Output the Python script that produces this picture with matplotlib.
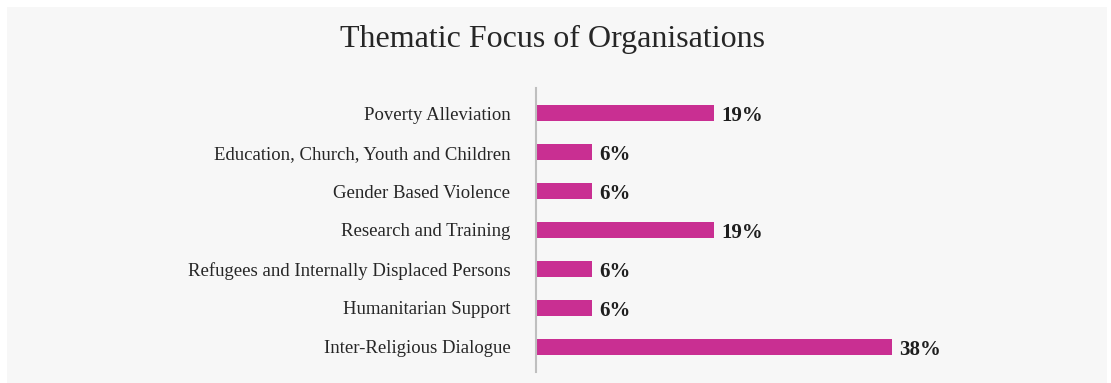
import matplotlib
matplotlib.use("Agg")
import matplotlib.pyplot as plt
from matplotlib.patches import Rectangle

# -----------------------------
# DATA
# -----------------------------
categories = [
    "Poverty Alleviation",
    "Education, Church, Youth and Children",
    "Gender Based Violence",
    "Research and Training",
    "Refugees and Internally Displaced Persons",
    "Humanitarian Support",
    "Inter-Religious Dialogue",
]
shares = [19, 6, 6, 19, 6, 6, 38]
share_labels = ["19%", "6%", "6%", "19%", "6%", "6%", "38%"]
# -----------------------------

BAR_COLOR = "#c92f92"
BG_COLOR = "#f7f7f7"
TEXT_COLOR = "#262626"

plt.rcParams["font.family"] = ["Liberation Serif", "DejaVu Serif"]

W, H = 1111, 383
fig = plt.figure(figsize=(W / 100, H / 100), dpi=100)
fig.patch.set_facecolor("white")

# grey panel behind everything
fig.patches.append(Rectangle((7 / W, 0), 1100 / W, 376 / H,
                             transform=fig.transFigure, facecolor=BG_COLOR,
                             edgecolor="none", zorder=-10))

# axes placed in pixel terms: y axis at x=536, spanning y=88..372
xmax = 50
px_per_unit = 9.37
left, right = 536, 536 + xmax * px_per_unit
top, bottom = 88, 372
ax = fig.add_axes([left / W, 1 - bottom / H, (right - left) / W, (bottom - top) / H])
ax.set_facecolor("none")

y = list(range(len(categories)))
ax.barh(y, shares, height=0.41, color=BAR_COLOR)
ax.set_xlim(0, xmax)
ax.set_ylim(len(categories) - 0.35, -0.65)

for yi, v, lab in zip(y, shares, share_labels):
    ax.text(v + 0.8, yi + 0.01, lab, va="center_baseline", ha="left", fontsize=15,
            fontweight="bold", color="#1e1e1e")

ax.set_yticks(y)
ax.set_yticklabels(categories, fontsize=13.5, color=TEXT_COLOR)
ax.tick_params(axis="y", length=0, pad=18.5)
ax.set_xticks([])
for side in ["top", "right", "bottom"]:
    ax.spines[side].set_visible(False)
ax.spines["left"].set_color("#bfbfbf")
ax.spines["left"].set_linewidth(1.5)

fig.text(553 / W, 1 - 39 / H, "Thematic Focus of Organisations", ha="center",
         va="center", fontsize=23, color=TEXT_COLOR)

fig.savefig("out.png", dpi=100, facecolor=fig.get_facecolor())
